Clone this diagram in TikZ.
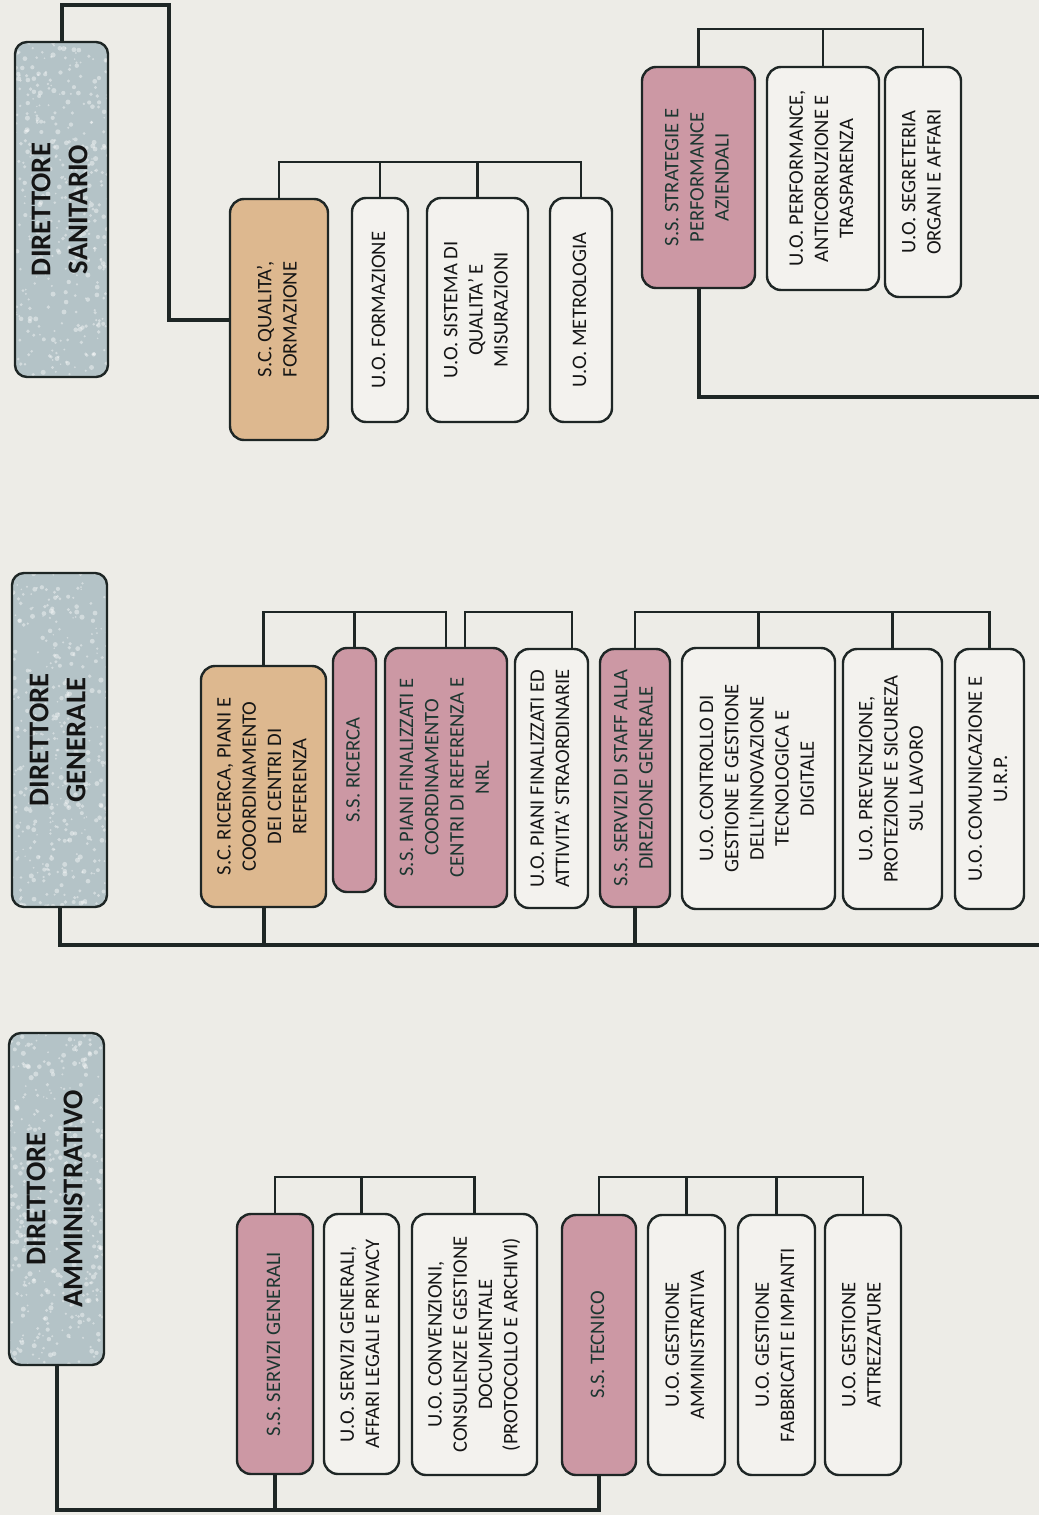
\documentclass[tikz,border=0pt]{standalone}
\usepackage{fontspec}
\usepackage{graphicx}
\setmainfont{Carlito}

\definecolor{paper}{HTML}{EDECE7}
\definecolor{edge}{HTML}{1E2625}
\definecolor{dirfill}{HTML}{B4C3C7}
\definecolor{tanfill}{HTML}{DDB88F}
\definecolor{rosefill}{HTML}{CC98A4}
\definecolor{uofill}{HTML}{F3F2EE}
\definecolor{ssink}{HTML}{1C3630}
\definecolor{ink}{HTML}{151515}

% text set bottom-to-top inside each box
\newcommand\vt[1]{\rotatebox{90}{\begin{tabular}{@{}c@{}}#1\end{tabular}}}
% \orgbox{name}{style}{x1}{y1}{x2}{y2}{text}
\newcommand\orgbox[7]{\node[#2, minimum width={(#5-#3)*0.5pt}, minimum height={(#6-#4)*0.5pt}]
  (#1) at ({(#3+#5)/2},{(#4+#6)/2}) {\vt{#7}};}

\pgfmathsetseed{7}
\tikzset{
  box/.style={draw=edge, line width=1.2pt, rounded corners=7pt, inner sep=0pt,
    text=ink, font=\fontsize{10.3}{12.6}\selectfont},
  % mottled grey-blue fill of the director boxes
  mottle/.style={path picture={
    \foreach \i in {1,...,420}
      \fill[white, opacity=0.4]
        ([shift={(rnd*50pt, rnd*170pt)}]path picture bounding box.south west)
        circle[radius={0.4pt+rnd*0.9pt}];
  }},
  director/.style={box, fill=dirfill, mottle, rounded corners=6pt,
    font=\fontsize{14.3}{18.5}\selectfont\bfseries},
  scbox/.style={box, fill=tanfill},
  ssbox/.style={box, fill=rosefill, text=ssink},
  uobox/.style={box, fill=uofill},
  trunk/.style={draw=edge, line width=2pt},
  branch/.style={draw=edge, line width=1.1pt},
}

\begin{document}
\begin{tikzpicture}[x=0.5pt, y=-0.5pt]
\fill[paper] (0,0) rectangle (1039,1515);
\useasboundingbox (0,0) rectangle (1039,1515);

% ---------- Direttore Sanitario ----------
\orgbox{ds}{director}{15}{42}{108}{377}{DIRETTORE\\SANITARIO}
\orgbox{scq}{scbox}{230}{199}{328}{440}{S.C. QUALITA’,\\FORMAZIONE}
\orgbox{form}{uobox}{352}{198}{408}{422}{U.O. FORMAZIONE}
\orgbox{sist}{uobox}{427}{198}{528}{422}{U.O. SISTEMA DI\\QUALITA’ E\\MISURAZIONI}
\orgbox{metro}{uobox}{550}{198}{612}{422}{U.O. METROLOGIA}

\orgbox{strat}{ssbox}{642}{67}{755}{288}{S.S. STRATEGIE E\\PERFORMANCE\\AZIENDALI}
\orgbox{perf}{uobox}{767}{67}{879}{290}{U.O. PERFORMANCE,\\ANTICORRUZIONE E\\TRASPARENZA}
\orgbox{segr}{uobox}{885}{67}{961}{297}{U.O. SEGRETERIA\\ORGANI E AFFARI}

\coordinate (dstop) at (169,5);
\draw[trunk] (ds.north) |- (dstop) |- (scq.west);
\coordinate (sbar) at (0,162);
\draw[branch] (scq.north) |- (metro.north |- sbar) -- (metro.north);
\draw[branch] (form.north) -- (form.north |- sbar);
\draw[branch] (sist.north) -- (sist.north |- sbar);

\coordinate (rbar) at (0,29);
\draw[branch] (strat.north) |- (segr.north |- rbar) -- (segr.north);
\draw[branch] (perf.north) -- (perf.north |- rbar);
\coordinate (rend) at (1039,397);
\draw[trunk] (strat.south) |- (rend);

% ---------- Direttore Generale ----------
\orgbox{dg}{director}{12}{573}{107}{907}{DIRETTORE\\GENERALE}
\orgbox{scr}{scbox}{201}{666}{326}{907}{S.C. RICERCA, PIANI E\\COOORDINAMENTO\\DEI CENTRI DI\\REFERENZA}
\orgbox{ssr}{ssbox}{333}{648}{376}{892}{S.S. RICERCA}
\orgbox{ssp}{ssbox}{385}{648}{507}{907}{S.S. PIANI FINALIZZATI E\\COORDINAMENTO\\CENTRI DI REFERENZA E\\NRL}
\orgbox{uop}{uobox}{515}{649}{588}{908}{U.O. PIANI FINALIZZATI ED\\ATTIVITA’ STRAORDINARIE}
\orgbox{staff}{ssbox}{600}{649}{670}{907}{S.S. SERVIZI DI STAFF ALLA\\DIREZIONE GENERALE}
\orgbox{ctrl}{uobox}{682}{648}{835}{909}{U.O. CONTROLLO DI\\GESTIONE E GESTIONE\\DELL’INNOVAZIONE\\TECNOLOGICA E\\DIGITALE}
\orgbox{prev}{uobox}{843}{649}{942}{909}{U.O. PREVENZIONE,\\PROTEZIONE E SICUREZA\\SUL LAVORO}
\orgbox{com}{uobox}{955}{649}{1024}{909}{U.O. COMUNICAZIONE E\\U.R.P.}

\coordinate (gline) at (1039,945);
\draw[trunk] (dg.south) |- (gline);
\draw[trunk] (scr.south) -- (scr.south |- gline);
\draw[trunk] (staff.south) -- (staff.south |- gline);
\coordinate (gbar) at (0,612);
\draw[branch] (scr.north) |- (ssp.north |- gbar) -- (ssp.north);
\draw[branch] (ssr.north) -- (ssr.north |- gbar);
\coordinate (pj) at (465,0);
\coordinate (uj) at (572,0);
\draw[branch] (ssp.north -| pj) |- (uj |- gbar) -- (uop.north -| uj);
\draw[branch] (staff.north) |- (com.north |- gbar) -- (com.north);
\draw[branch] (ctrl.north) -- (ctrl.north |- gbar);
\draw[branch] (prev.north) -- (prev.north |- gbar);

% ---------- Direttore Amministrativo ----------
\orgbox{da}{director}{9}{1033}{104}{1365}{DIRETTORE\\AMMINISTRATIVO}
\orgbox{ssg}{ssbox}{237}{1214}{313}{1474}{S.S. SERVIZI GENERALI}
\orgbox{uosg}{uobox}{324}{1214}{399}{1474}{U.O. SERVIZI GENERALI,\\AFFARI LEGALI E PRIVACY}
\orgbox{conv}{uobox}{412}{1214}{537}{1475}{U.O. CONVENZIONI,\\CONSULENZE E GESTIONE\\DOCUMENTALE\\(PROTOCOLLO E ARCHIVI)}
\orgbox{tec}{ssbox}{562}{1215}{636}{1475}{S.S. TECNICO}
\orgbox{gamm}{uobox}{648}{1215}{725}{1475}{U.O. GESTIONE\\AMMINISTRATIVA}
\orgbox{fabb}{uobox}{738}{1215}{815}{1475}{U.O. GESTIONE\\FABBRICATI E IMPIANTI}
\orgbox{attr}{uobox}{825}{1215}{901}{1475}{U.O. GESTIONE\\ATTREZZATURE}

\coordinate (aline) at (0,1510);
\draw[trunk] (da.south) |- (tec.south |- aline) -- (tec.south);
\draw[trunk] (ssg.south) -- (ssg.south |- aline);
\coordinate (abar) at (0,1177);
\draw[branch] (ssg.north) |- (conv.north |- abar) -- (conv.north);
\draw[branch] (uosg.north) -- (uosg.north |- abar);
\draw[branch] (tec.north) |- (attr.north |- abar) -- (attr.north);
\draw[branch] (gamm.north) -- (gamm.north |- abar);
\draw[branch] (fabb.north) -- (fabb.north |- abar);
\end{tikzpicture}
\end{document}
